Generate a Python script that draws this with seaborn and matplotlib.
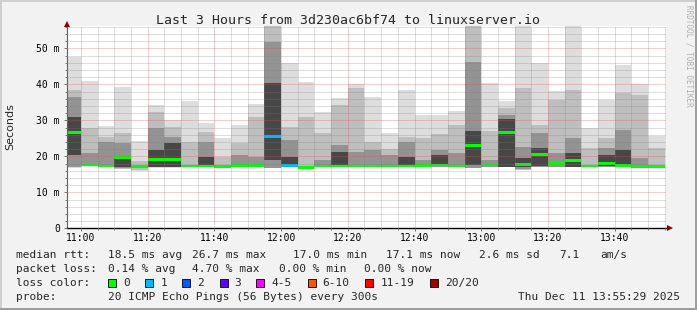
import numpy as np
import pandas as pd
import matplotlib
matplotlib.use("Agg")
import matplotlib.pyplot as plt
from matplotlib.patches import Rectangle
from matplotlib.ticker import MultipleLocator, FixedLocator, FixedFormatter, FuncFormatter
import seaborn as sns

nan = np.nan

# ---------------- data (ms) ----------------
slot_start = pd.date_range("2025-12-11 10:55", periods=36, freq="5min")

# outermost smoke band (min .. max ping)
rtt_min = [16.8, 17.1, 17.0, 16.5, 16.0, 16.8, 16.8, 16.9, 17.0, 17.0, 16.9, 16.9,
           16.8, 16.9, 16.4, 16.9, 16.9, 16.9, 16.9, 16.9, 16.9, 16.9, 16.9, 16.9,
           16.8, 16.9, 16.9, 16.2, 16.9, 16.9, 16.9, 17.0, 16.9, 16.9, 16.9, 17.0]
rtt_max = [47.7, 40.9, 28.4, 39.3, 24.3, 34.3, 30.1, 35.4, 29.3, 25.0, 28.7, 34.4,
           60.0, 45.8, 40.7, 32.4, 36.3, 40.0, 36.4, 26.4, 38.4, 31.5, 31.5, 32.6,
           60.0, 40.3, 35.4, 60.0, 45.8, 38.1, 60.0, 28.0, 35.6, 45.4, 40.0, 25.7]
# second band
band2_lo = [16.9, 17.2, 17.1, 16.6, 16.3, 16.9, 16.9, 17.0, 17.0, 17.1, 17.0, 17.0,
            16.8, 17.0, 16.5, 17.0, 17.0, 17.0, 17.0, 17.0, 17.0, 17.0, 17.0, 17.0,
            16.8, 17.0, 17.0, 16.3, 17.0, 17.0, 17.0, 17.1, 17.0, 17.0, 17.0, 17.1]
band2_hi = [38.4, 27.8, 25.5, 26.4, 18.6, 32.4, 28.2, 24.1, 26.8, 19.9, 23.6, 31.0,
            58.0, 28.2, 31.0, 26.4, 34.3, 38.9, 24.1, 21.9, 25.5, 25.0, 26.1, 28.7,
            58.0, 27.0, 33.3, 38.9, 28.7, 35.6, 38.4, 22.2, 25.0, 37.5, 37.0, 22.2]
# third band
band3_lo = [17.1, 17.3, 17.2, 16.8, nan, 17.0, 17.0, nan, 17.1, nan, 17.1, 17.1,
            16.8, 17.1, nan, 17.1, 17.1, 17.1, 17.1, 17.1, 17.1, 17.1, 17.1, 17.1,
            16.8, 17.1, 17.1, 16.5, 17.1, 17.1, 17.1, nan, 17.1, 17.1, 17.1, nan]
band3_hi = [36.6, 20.8, 24.0, 23.6, nan, 27.8, 25.5, nan, 24.1, nan, 20.4, 19.9,
            51.8, 24.5, nan, 19.0, 23.1, 21.3, 21.7, 20.4, 24.0, 19.0, 21.7, 20.8,
            46.3, 19.0, 31.5, 22.7, 26.4, 20.8, 25.0, nan, 22.2, 27.3, 19.4, nan]
# innermost (darkest) band
band4_lo = [20.4, nan, nan, 17.1, nan, 17.1, 17.1, nan, 17.2, nan, nan, nan,
            19.0, 17.2, nan, nan, 17.2, nan, nan, nan, 17.2, nan, 17.2, nan,
            17.7, nan, 17.1, 17.0, 17.2, nan, 17.1, nan, 17.2, 17.2, nan, nan]
band4_hi = [31.0, nan, nan, 20.0, nan, 21.7, 23.6, nan, 19.9, nan, nan, nan,
            40.3, 19.9, nan, nan, 21.3, nan, nan, nan, 19.9, nan, 20.4, nan,
            27.0, nan, 30.5, 19.5, 22.2, nan, 20.8, nan, 20.4, 21.7, nan, nan]
median_rtt = [26.7, 17.7, 17.3, 19.6, 17.2, 19.0, 19.0, 17.3, 17.3, 17.2, 17.4, 17.4,
              25.4, 17.5, 16.8, 17.3, 17.3, 17.3, 17.3, 17.3, 17.3, 17.4, 17.6, 17.3,
              23.0, 17.6, 26.6, 17.8, 20.5, 18.0, 18.8, 17.3, 17.9, 17.4, 17.1, 17.1]
lost_pings = [0, 0, 0, 0, 0, 0, 0, 0, 0, 0, 0, 0,
              1, 1, 0, 0, 0, 0, 0, 0, 0, 0, 0, 0,
              0, 0, 0, 0, 0, 0, 0, 0, 0, 0, 0, 0]

x_tick_minutes = [0, 20, 40, 60, 80, 100, 120, 140, 160]
x_tick_labels = ["11:00", "11:20", "11:40", "12:00", "12:20", "12:40", "13:00", "13:20", "13:40"]

loss_labels = ["0", "1", "2", "3", "4-5", "6-10", "11-19", "20/20"]
loss_colors = ["#00ff00", "#00b8ff", "#0059ff", "#5e00ff", "#ff00ff", "#ff5500", "#ff0000", "#a10000"]

title = "Last 3 Hours from 3d230ac6bf74 to linuxserver.io"

# ---------------- style ----------------
sns.set_theme(style="white")
plt.rcParams["font.family"] = ["DejaVu Sans Mono", "DejaVu Sans"]

W, H = 697, 310
fig = plt.figure(figsize=(W / 100, H / 100), dpi=100, facecolor="#f2f2f2")

ax_l, ax_r, ax_t, ax_b = 67, 666, 26, 228.3
ax = fig.add_axes([ax_l / W, (H - ax_b) / H, (ax_r - ax_l) / W, (ax_b - ax_t) / H])
ax.set_facecolor("white")

x = np.asarray((slot_start - pd.Timestamp("2025-12-11 11:00")) / pd.Timedelta(minutes=1), float)

bands = [(rtt_min, rtt_max, "#dddddd"),
         (band2_lo, band2_hi, "#bebebe"),
         (band3_lo, band3_hi, "#939393"),
         (band4_lo, band4_hi, "#474747")]
for lo, hi, col in bands:
    lo = np.asarray(lo, float)
    hi = np.asarray(hi, float)
    m = np.isfinite(lo) & np.isfinite(hi)
    ax.bar(x[m], hi[m] - lo[m], bottom=lo[m], width=5, align="edge",
           color=col, linewidth=0, zorder=1)

med = np.asarray(median_rtt, float)
med_cols = [loss_colors[n] for n in lost_pings]
ax.bar(x, 0.8, bottom=med - 0.4, width=5, align="edge", color=med_cols,
       linewidth=0, zorder=1.5)

ax.set_xlim(-4.2, 175.4)
ax.set_ylim(0, 56.2)

ax.xaxis.set_major_locator(FixedLocator(x_tick_minutes))
ax.xaxis.set_major_formatter(FixedFormatter(x_tick_labels))
ax.xaxis.set_minor_locator(MultipleLocator(5))
ax.yaxis.set_major_locator(MultipleLocator(10))
ax.yaxis.set_minor_locator(MultipleLocator(2))
ax.yaxis.set_major_formatter(FuncFormatter(lambda v, p: "0" if v == 0 else f"{v:.0f} m"))

ax.set_axisbelow(False)
ax.grid(which="major", color="#de4f4f", alpha=0.55, lw=0.72, ls=(0, (1, 1)))
ax.grid(which="minor", color="#7f7f7f", alpha=0.5, lw=0.72, ls=(0, (1, 1)))

ax.tick_params(which="both", direction="out", color="#777777", width=0.7,
               labelsize=7, labelcolor="black")
ax.tick_params(which="major", length=2.2)
ax.tick_params(which="minor", length=1.4)
ax.tick_params(axis="x", pad=1.5)
ax.tick_params(axis="y", pad=2.9)
ax.yaxis.set_ticks_position("left")
ax.xaxis.set_ticks_position("bottom")

for s in ["top", "right"]:
    ax.spines[s].set_visible(False)
ax.spines["left"].set_color("#606060")
ax.spines["left"].set_linewidth(0.8)
ax.spines["bottom"].set_color("black")
ax.spines["bottom"].set_linewidth(1.0)

# ---------------- overlay (pixel coordinates) ----------------
ov = fig.add_axes([0, 0, 1, 1], zorder=5)
ov.set_xlim(0, W)
ov.set_ylim(H, 0)
ov.axis("off")
ov.patch.set_alpha(0)

# frame shading
ov.add_patch(Rectangle((0, 0), W, 2, color="#cfcfcf", lw=0))
ov.add_patch(Rectangle((0, 0), 2, H, color="#cfcfcf", lw=0))
ov.add_patch(Rectangle((W - 2, 0), 2, H, color="#9e9e9e", lw=0))
ov.add_patch(Rectangle((0, H - 2), W, 2, color="#9e9e9e", lw=0))

# axis arrows
ov.plot([67], [23.5], marker="^", ms=4, color="#8b0000", mew=0)
ov.plot([669.5], [228.3], marker=">", ms=4, color="#8b0000", mew=0)

ov.text(348, 24, title, ha="center", va="baseline", fontsize=9.5)
ov.text(10, 127, "Seconds", rotation=90, ha="center", va="center", fontsize=8,
        family="DejaVu Sans")
ov.text(689, 5, "RRDTOOL / TOBI OETIKER", rotation=270, ha="center", va="top",
        fontsize=5.5, color="#b0b0b0")

fs = 8.0
row1 = [(15.6, "median rtt:"), (108, "18.5 ms avg"), (192, "26.7 ms max"), (293, "17.0 ms min"),
        (386, "17.1 ms now"), (479, "2.6 ms sd"), (559, "7.1"), (600, "am/s")]
row2 = [(15.6, "packet loss:"), (108, "0.14 % avg"), (192.4, "4.70 % max"),
        (279, "0.00 % min"), (364.4, "0.00 % now")]
for xx, t in row1:
    ov.text(xx, 258, t, ha="left", va="baseline", fontsize=fs)
for xx, t in row2:
    ov.text(xx, 272, t, ha="left", va="baseline", fontsize=fs)

ov.text(15.6, 286, "loss color:", ha="left", va="baseline", fontsize=fs)
box_x = [108, 145.3, 182.2, 219.6, 256.4, 307.6, 365.3, 430.2]
for bx, lab, c in zip(box_x, loss_labels, loss_colors):
    ov.add_patch(Rectangle((bx, 279), 8, 8, facecolor=c, edgecolor="black", lw=0.6))
    ov.text(bx + 15, 286, lab, ha="left", va="baseline", fontsize=fs)

ov.text(15.6, 300, "probe:", ha="left", va="baseline", fontsize=fs)
ov.text(108, 300, "20 ICMP Echo Pings (56 Bytes) every 300s", ha="left", va="baseline", fontsize=fs)
ov.text(680, 300, "Thu Dec 11 13:55:29 2025", ha="right", va="baseline", fontsize=fs)

fig.savefig("out.png", dpi=100, facecolor=fig.get_facecolor())
